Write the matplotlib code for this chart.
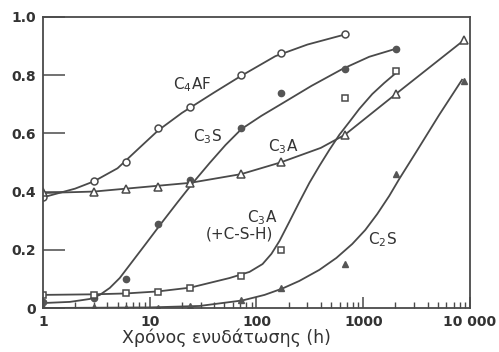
import matplotlib
matplotlib.use("Agg")
import matplotlib.pyplot as plt
from matplotlib.ticker import FixedLocator, LogLocator, NullFormatter

# χρόνοι μετρήσεων (h)
hours = [1, 3, 6, 12, 24, 72, 168, 672, 2016, 8760]

# σημεία μετρήσεων
c4af_t = [1, 3, 6, 12, 24, 72, 168, 672]
c4af_v = [0.38, 0.435, 0.50, 0.62, 0.69, 0.80, 0.875, 0.94]

c3s_t = [1, 3, 6, 12, 24, 72, 168, 672, 2016]
c3s_v = [0.02, 0.035, 0.10, 0.29, 0.44, 0.62, 0.74, 0.82, 0.89]

c3a_t = hours
c3a_v = [0.40, 0.40, 0.41, 0.415, 0.43, 0.46, 0.50, 0.595, 0.735, 0.92]

c3a_csh_t = [1, 3, 6, 12, 24, 72, 168, 672, 2016]
c3a_csh_v = [0.045, 0.045, 0.05, 0.055, 0.07, 0.11, 0.20, 0.72, 0.815]

c2s_t = hours
c2s_v = [0.005, 0.005, 0.0, 0.0, 0.007, 0.027, 0.07, 0.15, 0.46, 0.78]

# καμπύλες (όπως διαβάζονται από το σχήμα)
c4af_curve_t = [1, 2, 3, 5, 8, 12, 20, 40, 70, 150, 300, 680]
c4af_curve_v = [0.38, 0.41, 0.435, 0.48, 0.55, 0.61, 0.67, 0.74, 0.795, 0.865, 0.905, 0.94]

c3s_curve_t = [1, 1.79, 2.75, 3.41, 4.23, 5.24, 6.5, 9.0, 12.9, 18.3, 25.8, 36.4, 51.3,
               72.4, 111, 171, 327, 637, 1137, 2125]
c3s_curve_v = [0.017, 0.021, 0.031, 0.045, 0.069, 0.103, 0.148, 0.216, 0.292, 0.364, 0.433,
               0.498, 0.56, 0.615, 0.66, 0.701, 0.763, 0.821, 0.863, 0.893]

c3a_curve_t = [1, 3, 6, 12, 24, 72, 168, 400, 672, 2016, 8760]
c3a_curve_v = [0.395, 0.40, 0.41, 0.42, 0.43, 0.46, 0.50, 0.55, 0.595, 0.735, 0.92]

c3a_csh_curve_t = [1, 3, 6, 12, 24, 56, 86, 114, 138, 164, 203, 252, 313, 388, 481, 597,
                   740, 918, 1214, 1571, 2034]
c3a_csh_curve_v = [0.045, 0.047, 0.05, 0.057, 0.07, 0.103, 0.124, 0.151, 0.186, 0.230, 0.296,
                   0.364, 0.430, 0.488, 0.543, 0.595, 0.639, 0.684, 0.735, 0.773, 0.808]

c2s_curve_t = [1, 10, 29.3, 74, 119, 175, 252, 388, 560, 789, 1044, 1352, 1750, 2170, 3130,
               5130, 8410]
c2s_curve_v = [0.0, 0.002, 0.007, 0.026, 0.045, 0.067, 0.093, 0.131, 0.172, 0.220, 0.268,
               0.323, 0.385, 0.443, 0.536, 0.663, 0.784]

line_c = "#4a4a4a"

fig = plt.figure(figsize=(4.99, 3.52), dpi=100)
ax = fig.add_axes([0.086, 0.125, 0.856, 0.827])

ax.plot(c4af_curve_t, c4af_curve_v, color=line_c, lw=1.3)
ax.plot(c3s_curve_t, c3s_curve_v, color=line_c, lw=1.3)
ax.plot(c3a_curve_t, c3a_curve_v, color=line_c, lw=1.3)
ax.plot(c3a_csh_curve_t, c3a_csh_curve_v, color=line_c, lw=1.3)
ax.plot(c2s_curve_t, c2s_curve_v, color=line_c, lw=1.3)

ax.plot(c4af_t, c4af_v, "o", ms=5, mfc="white", mec=line_c, mew=1.1, ls="none")
ax.plot(c3s_t, c3s_v, "o", ms=4.5, mfc="#555555", mec="#555555", ls="none")
ax.plot(c3a_t, c3a_v, "^", ms=6, mfc="white", mec=line_c, mew=1.1, ls="none")
ax.plot(c3a_csh_t, c3a_csh_v, "s", ms=5, mfc="white", mec=line_c, mew=1.1, ls="none")
ax.plot(c2s_t, c2s_v, "^", ms=4.5, mfc="#555555", mec="#555555", ls="none")

txt = dict(fontsize=11, color="#333333", ha="center", va="center")
ax.text(25, 0.766, r"C$_4$AF", **txt)
ax.text(35, 0.59, r"C$_3$S", **txt)
ax.text(178, 0.553, r"C$_3$A", **txt)
ax.text(114, 0.309, r"C$_3$A", **txt)
ax.text(69, 0.254, "(+C-S-H)", **txt)
ax.text(1500, 0.234, r"C$_2$S", **txt)

ax.set_xscale("log")
ax.set_xlim(1, 10000)
ax.set_ylim(0, 1.0)

ax.xaxis.set_major_locator(FixedLocator([1, 10, 100, 1000, 10000]))
ax.set_xticklabels(["1", "10", "100", "1000", "10 000"], fontweight="bold", fontsize=10, color="#333333")
ax.xaxis.set_minor_locator(LogLocator(base=10, subs=range(2, 10)))
ax.xaxis.set_minor_formatter(NullFormatter())
ax.set_yticks([0, 0.2, 0.4, 0.6, 0.8, 1.0])
ax.set_yticklabels(["0", "0.2", "0.4", "0.6", "0.8", "1.0"], fontweight="bold", fontsize=10, color="#333333")

ax.tick_params(axis="x", which="major", direction="in", length=8, width=1.1, color=line_c, pad=5)
ax.tick_params(axis="x", which="minor", direction="in", length=4, width=1.0, color=line_c)
ax.tick_params(axis="y", which="major", direction="in", length=16, width=1.1, color=line_c, pad=5)
for s in ax.spines.values():
    s.set_color(line_c)
    s.set_linewidth(1.3)

ax.set_xlabel("Χρόνος ενυδάτωσης (h)", fontsize=12.5, color="#333333")
ax.xaxis.set_label_coords(0.43, -0.072)

fig.savefig("out.png", dpi=100)
